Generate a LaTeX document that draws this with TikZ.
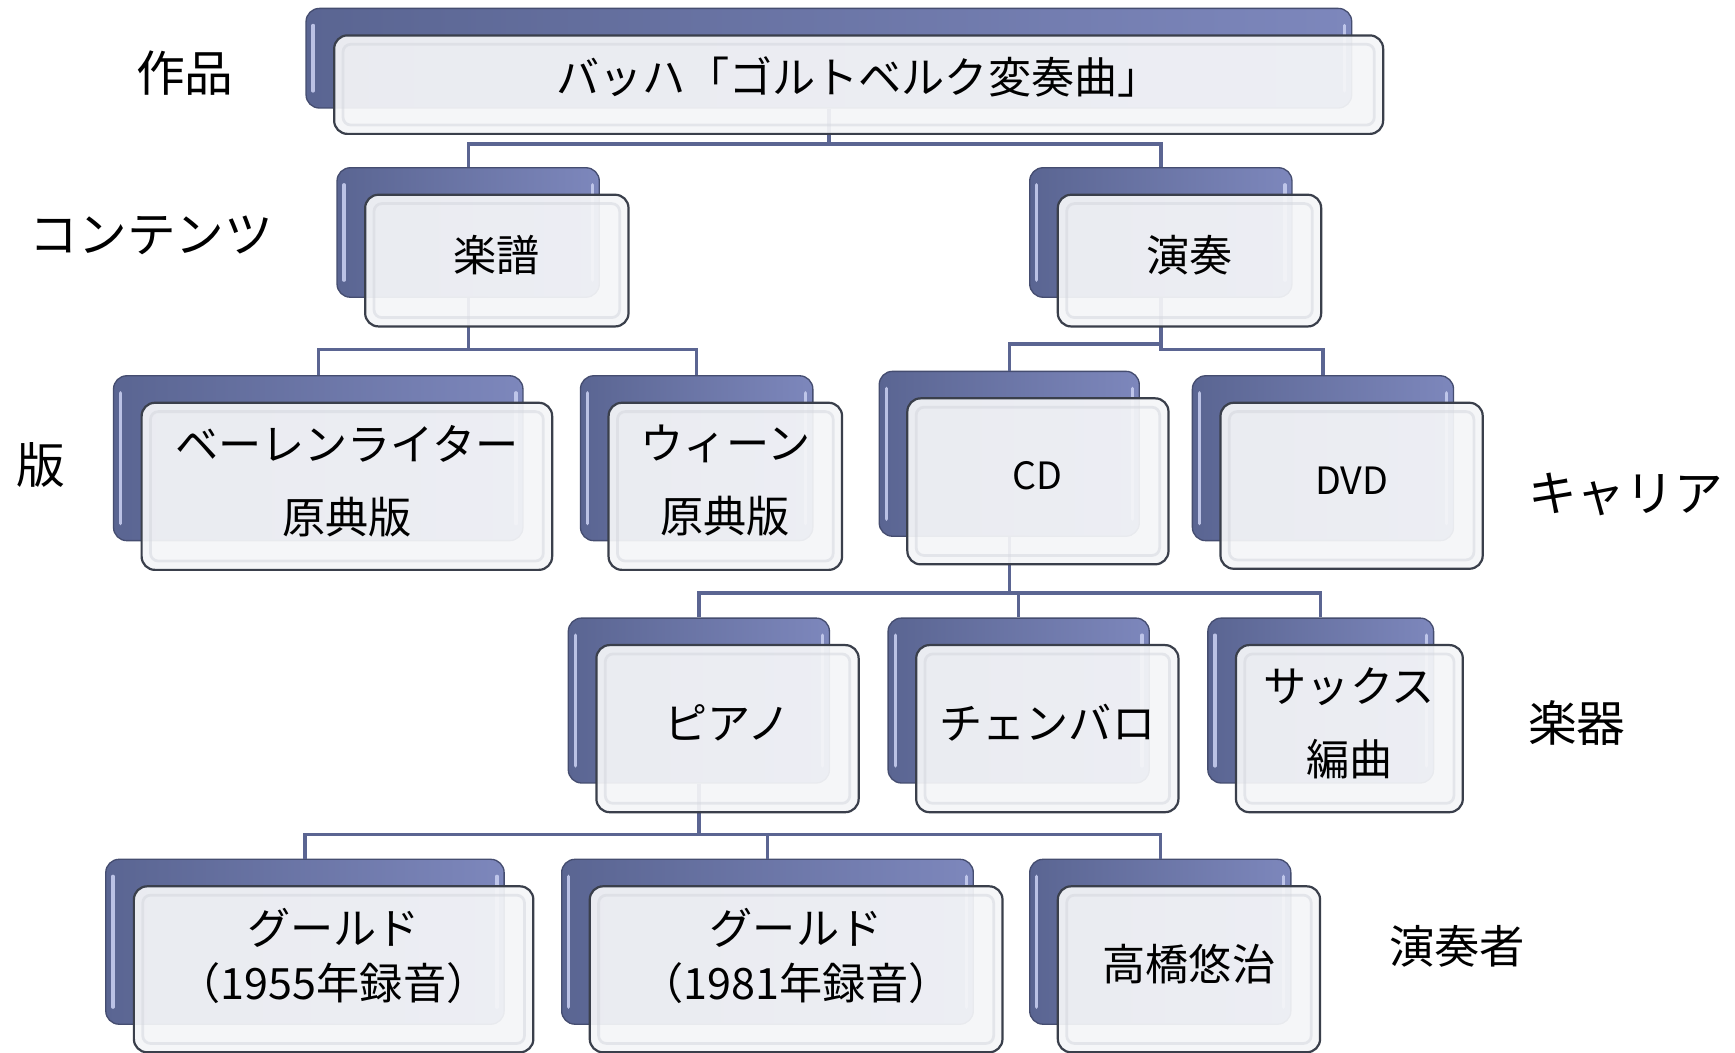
\documentclass[tikz,border=0pt]{standalone}
\usepackage{fontspec}
\setmainfont{Noto Sans CJK JP}
\usetikzlibrary{calc}
\definecolor{bkL}{HTML}{5A6592}
\definecolor{bkR}{HTML}{7D87BC}
\definecolor{bkLine}{HTML}{454D70}
\definecolor{frFill}{HTML}{F5F6F8}
\definecolor{frLine}{HTML}{3A3F4B}
\definecolor{connC}{HTML}{5B6592}
\definecolor{hlC}{HTML}{C6CCEE}
\definecolor{innerC}{HTML}{D3D6DD}
\newcommand\boxfont{\fontsize{39}{66}\selectfont}
\newcommand\sidefont{\fontsize{44}{50}\selectfont}
\tikzset{
  bkbox/.style={draw=bkLine, line width=1.2pt, rounded corners=12pt,
    left color=bkL, right color=bkR, anchor=north west, inner sep=0pt},
  frbox/.style={draw=frLine, line width=2pt, rounded corners=12pt,
    fill=frFill, fill opacity=0.93, anchor=north west, inner sep=0pt,
    path picture={\draw[innerbevel]
      ([shift={(8pt,-8pt)}]path picture bounding box.north west) rectangle
      ([shift={(-8pt,8pt)}]path picture bounding box.south east);}},
  boxtext/.style={align=center, font=\boxfont, inner sep=0pt, yshift=5pt},
  innerbevel/.style={draw=innerC, line width=2.5pt, rounded corners=7pt, draw opacity=0.5},
  conn/.style={draw=connC, line width=3pt},
  hl/.style={draw=hlC, line width=3pt, line cap=round, draw opacity=0.9},
  side/.style={font=\sidefont, inner sep=0pt},
}
% back box: name, x, y, w, h
\newcommand\backbox[5]{%
  \node[bkbox, minimum width=#4pt, minimum height=#5pt] (b#1) at (#2,#3) {};
  \draw[hl] ([xshift=7pt,yshift=-16pt]b#1.north west) -- ([xshift=7pt,yshift=16pt]b#1.south west);
  \draw[hl] ([xshift=-7pt,yshift=-16pt]b#1.north east) -- ([xshift=-7pt,yshift=16pt]b#1.south east);
}
% front box: [text opt], name, x, y, w, h, text
\newcommand\frontbox[7][]{%
  \node[frbox, minimum width=#5pt, minimum height=#6pt] (#2) at (#3+25,#4+24) {};
  \node[boxtext, #1] (t#2) at (#2.center) {#7};
}
\begin{document}
\begin{tikzpicture}[x=1pt,y=-1pt]
\useasboundingbox[fill=white] (0,0) rectangle (1568,951);

% back boxes
\backbox{top}{276}{7}{945}{90}
\backbox{gakufu}{304}{151}{237}{117}
\backbox{ensou}{930}{151}{237}{117}
\backbox{baren}{102}{339}{370}{149}
\backbox{wien}{524}{339}{210}{149}
\backbox{cd}{794}{335}{235}{149}
\backbox{dvd}{1077}{339}{236}{149}
\backbox{piano}{513}{558}{236}{149}
\backbox{cemb}{802}{558}{236}{149}
\backbox{sax}{1091}{558}{204}{149}
\backbox{gA}{95}{776}{360}{149}
\backbox{gB}{507}{776}{372}{149}
\backbox{taka}{930}{776}{236}{149}

% bar levels
\coordinate (y1) at (0,130);
\coordinate (y2) at (0,316);
\coordinate (y2b) at (0,311);
\coordinate (y3) at (0,536);
\coordinate (y4) at (0,754);

% connectors
\draw[conn] (btop.south) |- (bgakufu.north |- y1) -- (bgakufu.north);
\draw[conn] (btop.south) |- (bensou.north |- y1) -- (bensou.north);
\draw[conn] (bgakufu.south) |- (bbaren.north |- y2) -- (bbaren.north);
\draw[conn] (bgakufu.south) |- (bwien.north |- y2) -- (bwien.north);
\draw[conn] (bensou.south) |- (bcd.north |- y2b) -- (bcd.north);
\draw[conn] (bensou.south) |- (bdvd.north |- y2) -- (bdvd.north);
\draw[conn] (bcd.south) |- (bpiano.north |- y3) -- (bpiano.north);
\draw[conn] (bcd.south) |- (bcemb.north |- y3) -- (bcemb.north);
\draw[conn] (bcd.south) |- (bsax.north |- y3) -- (bsax.north);
\draw[conn] (bpiano.south) |- (bgA.north |- y4) -- (bgA.north);
\draw[conn] (bpiano.south) |- (bgB.north |- y4) -- (bgB.north);
\draw[conn] (bpiano.south) |- (btaka.north |- y4) -- (btaka.north);

% front boxes
\frontbox[yshift=2pt]{top}{276}{7}{948}{89}{バッハ「ゴルトベルク変奏曲」}
\frontbox{gakufu}{304}{151}{238}{119}{楽譜}
\frontbox{ensou}{930}{151}{238}{119}{演奏}
\frontbox{baren}{102}{339}{371}{151}{ベーレンライター\\原典版}
\frontbox{wien}{524}{339}{211}{151}{ウィーン\\原典版}
\frontbox[font={\fontsize{34}{40}\selectfont}]{cd}{794}{335}{236}{150}{CD}
\frontbox[font={\fontsize{34}{40}\selectfont}]{dvd}{1077}{339}{237}{150}{DVD}
\frontbox{piano}{513}{558}{237}{151}{ピアノ}
\frontbox{cemb}{802}{558}{237}{151}{チェンバロ}
\frontbox{sax}{1091}{558}{205}{151}{サックス\\編曲}
\frontbox[font={\fontsize{39}{50}\selectfont}, yshift=7pt]{gA}{95}{776}{361}{150}{グールド\\（1955年録音）}
\frontbox[font={\fontsize{39}{50}\selectfont}, yshift=7pt]{gB}{507}{776}{373}{150}{グールド\\（1981年録音）}
\frontbox{taka}{930}{776}{237}{150}{高橋悠治}

% side labels
\node[side] (lab1) at (167,66) {作品};
\node[side] (lab2) at (137,213) {コンテンツ};
\node[side] (lab3) at (37,420) {版};
\node[side] (lab4) at (1469,447) {キャリア};
\node[side] (lab5) at (1425,653) {楽器};
\node[side, font={\fontsize{41}{46}\selectfont}] (lab6) at (1317,855) {演奏者};
\end{tikzpicture}
\end{document}
